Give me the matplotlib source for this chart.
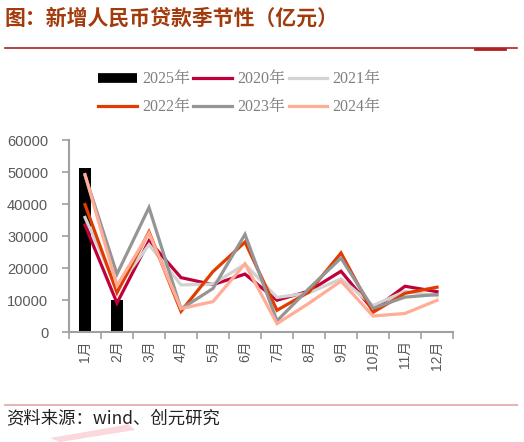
import numpy as np
import matplotlib
matplotlib.use("Agg")
import matplotlib.pyplot as plt
from matplotlib.patches import Polygon
from matplotlib.lines import Line2D

plt.rcParams["font.family"] = ["Liberation Sans", "Noto Sans CJK SC", "DejaVu Sans"]

months = ["1月", "2月", "3月", "4月", "5月", "6月", "7月", "8月", "9月", "10月", "11月", "12月"]
y2025 = [51300, 10100]
y2020 = [33400, 9057, 28500, 17000, 14800, 18100, 9927, 12800, 19000, 6898, 14300, 12600]
y2021 = [35800, 13600, 27300, 14700, 15000, 21200, 10800, 12200, 16600, 8262, 12700, 11300]
y2022 = [39800, 12300, 31300, 6454, 18900, 28100, 6790, 12500, 24700, 6152, 12100, 14000]
y2023 = [49000, 18100, 38900, 7188, 13600, 30500, 3459, 13600, 23100, 7384, 10900, 11700]
y2024 = [49200, 14500, 30900, 7300, 9500, 21300, 2600, 9000, 15900, 5000, 5800, 9900]

lines = [("2020年", y2020, "#c0003a"), ("2021年", y2021, "#d2d2d2"),
         ("2022年", y2022, "#e03c00"), ("2023年", y2023, "#959595"),
         ("2024年", y2024, "#ffad96")]

fig = plt.figure(figsize=(5.24, 4.42), dpi=100)
ax = fig.add_axes([69 / 524, 1 - 332 / 442, 384 / 524, 192 / 442])

x = np.arange(len(months))
ax.bar(x[:len(y2025)], y2025, width=0.4, color="black", zorder=2)
handles = {}
for name, vals, col in lines:
    ax.plot(x, vals, color=col, lw=2.3, zorder=3, solid_joinstyle="miter")
    handles[name] = Line2D([], [], color=col, lw=2.3)
handles["2025年"] = Line2D([], [], color="black", lw=7, solid_capstyle="butt")

ax.set_xlim(-0.5, 11.5)
ax.set_ylim(0, 60000)
ax.set_yticks(range(0, 60001, 10000))
ax.set_xticks(np.arange(-0.5, 12, 1))
ax.set_xticklabels([])
ax.set_xticks(x, minor=True)
ax.set_xticklabels(months, minor=True, rotation=90)
ax.tick_params(axis="x", which="major", length=5, color="#a0a0a0", width=1.2)
ax.tick_params(axis="x", which="minor", length=0, pad=6, labelsize=10, labelcolor="#595959")
ax.tick_params(axis="y", length=5, color="#a0a0a0", width=1.2, labelsize=10.5,
               labelcolor="#595959", pad=10)
for s in ["top", "right"]:
    ax.spines[s].set_visible(False)
for s in ["left", "bottom"]:
    ax.spines[s].set_color("#a0a0a0")
    ax.spines[s].set_linewidth(1.5)

order = ["2025年", "2022年", "2020年", "2023年", "2021年", "2024年"]
fig.legend([handles[k] for k in order], order, ncol=3, loc="upper left",
           bbox_to_anchor=(84 / 524, 1 - 57 / 442), frameon=False,
           prop={"family": ["Liberation Serif", "Noto Serif CJK SC", "Noto Sans CJK SC"], "size": 11.5},
           labelcolor="#7f7f7f", handlelength=2.4, handletextpad=0.35,
           columnspacing=0.2, labelspacing=0.75)

fig.text(5 / 524, 1 - 18 / 442, "图：新增人民币贷款季节性（亿元）", fontsize=15,
         fontweight="bold", color="#a23a0c", va="center", ha="left",
         family=["Noto Sans CJK SC", "DejaVu Sans"])
fig.add_artist(Line2D([5 / 524, 517 / 524], [1 - 48 / 442] * 2, color="#b02020", lw=1.2))
fig.add_artist(Line2D([475 / 524, 505 / 524], [1 - 48.5 / 442] * 2, color="#b02020", lw=2))
fig.add_artist(Line2D([5 / 524, 517 / 524], [1 - 405 / 442] * 2, color="#e6b6b6", lw=1.5))
fig.add_artist(Polygon([(50 / 524, 1 - 438 / 442), (120 / 524, 1 - 426 / 442),
                        (128 / 524, 1 - 424 / 442), (135 / 524, 1 - 430 / 442),
                        (60 / 524, 1 - 442 / 442)], closed=True,
                       transform=fig.transFigure, color="#fbd8dc", lw=0))
fig.text(6 / 524, 1 - 418 / 442, "资料来源：wind、创元研究", fontsize=12.5,
         color="#222222", va="center", ha="left",
         family=["Noto Sans CJK SC", "DejaVu Sans"])

fig.savefig("out.png", dpi=100)
